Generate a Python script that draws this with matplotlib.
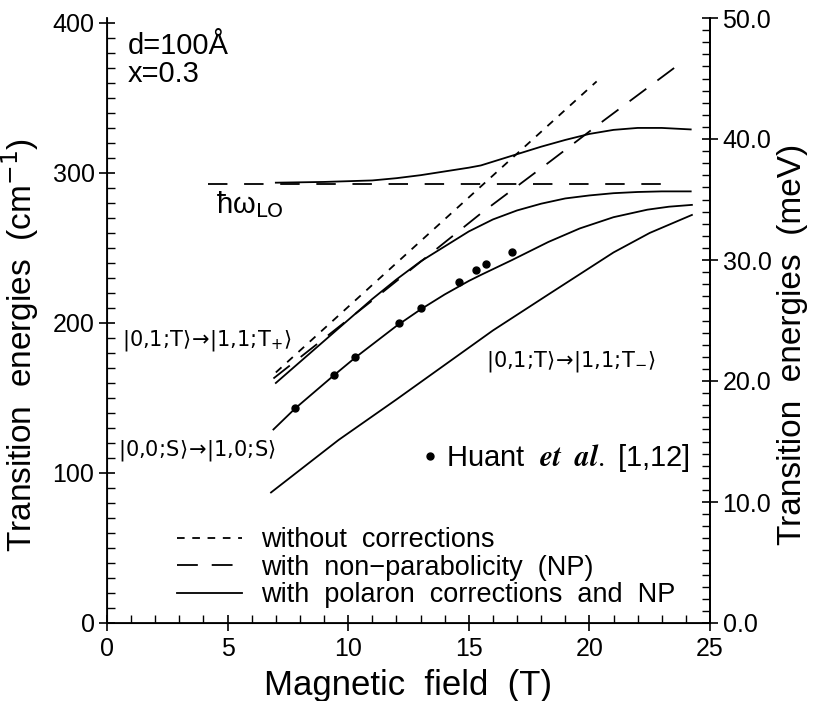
import matplotlib
matplotlib.use("Agg")
import matplotlib.pyplot as plt
from matplotlib.ticker import MultipleLocator, FixedLocator, FormatStrFormatter

plt.rcParams['font.family'] = ['Liberation Sans', 'DejaVu Sans']
plt.rcParams['lines.scale_dashes'] = False

CM_PER_MEV = 8.0655

# --- data (B in tesla, energies in cm^-1) ---
lo_B = [4.2, 23.5]
lo_E = [292.7, 292.7]

tplus_nocorr_B = [7.0, 20.3]
tplus_nocorr_E = [167.0, 361.0]

tplus_np_B = [6.9, 11.0, 15.5, 18.4, 20.6, 23.6]
tplus_np_E = [163.0, 215.0, 273.0, 308.0, 335.0, 371.0]

tplus_pol_low_B = [7.0, 8.0, 9.0, 10.0, 11.0, 12.0, 13.0, 14.0, 15.0, 16.0, 17.0,
                   18.0, 19.0, 20.0, 21.0, 22.0, 23.0, 24.2]
tplus_pol_low_E = [160.0, 174.0, 188.0, 202.0, 216.0, 229.0, 241.0, 251.0, 261.0, 269.0, 275.0,
                   279.5, 283.0, 285.0, 286.5, 287.3, 287.7, 287.7]

tplus_pol_up_B = [7.0, 9.0, 11.0, 12.0, 13.0, 14.0, 15.0, 15.5, 16.9, 18.0, 19.0,
                  20.0, 21.0, 22.0, 23.0, 24.2]
tplus_pol_up_E = [293.5, 294.0, 295.0, 296.5, 298.5, 301.0, 303.5, 305.0, 312.0, 317.5, 322.0,
                  326.0, 328.7, 330.0, 330.0, 329.0]

s_pol_B = [6.9, 7.8, 9.4, 10.3, 12.0, 13.0, 14.0, 15.0, 15.5, 16.8, 18.3, 19.6,
           21.0, 22.4, 23.3, 24.25]
s_pol_E = [129.0, 143.0, 165.0, 177.0, 198.0, 209.0, 219.0, 228.0, 232.0, 242.0, 254.0, 263.0,
           270.5, 275.5, 277.5, 278.7]

tminus_pol_B = [6.8, 9.6, 12.0, 14.0, 16.0, 18.3, 21.0, 22.5, 24.25]
tminus_pol_E = [87.0, 122.0, 149.0, 172.0, 195.0, 219.0, 247.0, 260.0, 272.0]

huant_B = [7.8, 9.4, 10.3, 12.1, 13.0, 14.6, 15.3, 15.7, 16.8]
huant_E = [143.0, 165.0, 177.0, 200.0, 210.0, 227.0, 235.0, 239.0, 247.0]

legend_labels = ["without  corrections",
                 "with  non\u2212parabolicity  (NP)",
                 "with  polaron  corrections  and  NP"]

fig = plt.figure(figsize=(8.19, 7.01), dpi=100)
W, H = 819.0, 701.0
x0, x1, ybot, ytop = 107.0, 710.0, 623.0, 18.0
ax = fig.add_axes([x0 / W, 1 - ybot / H, (x1 - x0) / W, (ybot - ytop) / H])
ax.set_xlim(0, 25)
ax.set_ylim(0, 50 * CM_PER_MEV)

lw = 1.3
short_d = (5.5, 5.5)
long_d = (15, 10)

ax.plot(lo_B, lo_E, color='black', lw=lw, dashes=(14, 12))
ln_nc, = ax.plot(tplus_nocorr_B, tplus_nocorr_E, color='black', lw=lw, dashes=short_d)
ln_np, = ax.plot(tplus_np_B, tplus_np_E, color='black', lw=lw, dashes=long_d)
ln_pol, = ax.plot(tplus_pol_low_B, tplus_pol_low_E, color='black', lw=lw)
ax.plot(tplus_pol_up_B, tplus_pol_up_E, color='black', lw=lw)
ax.plot(s_pol_B, s_pol_E, color='black', lw=lw)
ax.plot(tminus_pol_B, tminus_pol_E, color='black', lw=lw)
dots, = ax.plot(huant_B, huant_E, 'o', color='black', ms=5, ls='none')

# spines
ax.spines['top'].set_visible(False)
for s in ['left', 'bottom', 'right']:
    ax.spines[s].set_linewidth(1.3)

tick_fs = 18
ax.xaxis.set_major_locator(MultipleLocator(5))
ax.xaxis.set_minor_locator(MultipleLocator(1))
ax.yaxis.set_major_locator(FixedLocator([0, 100, 200, 300, 400]))
ax.yaxis.set_minor_locator(MultipleLocator(10))
ax.tick_params(axis='both', which='major', direction='inout', length=12, width=1.2,
               labelsize=tick_fs)
ax.tick_params(axis='both', which='minor', direction='in', length=6, width=1.0)
ax.tick_params(axis='y', which='major', pad=3)
ax.tick_params(axis='x', which='major', pad=4)

ax2 = ax.twinx()
ax2.set_ylim(0, 50)
ax2.spines['top'].set_visible(False)
ax2.spines['right'].set_linewidth(1.3)
ax2.yaxis.set_major_locator(MultipleLocator(10))
ax2.yaxis.set_minor_locator(MultipleLocator(1))
ax2.yaxis.set_major_formatter(FormatStrFormatter('%.1f'))
ax2.tick_params(axis='y', which='major', direction='inout', length=12, width=1.2,
                labelsize=tick_fs, pad=3)
ax2.tick_params(axis='y', which='minor', direction='in', length=6, width=1.0)

lab_fs = 24
ax.set_xlabel("Magnetic  field  (T)", fontsize=25, labelpad=6)
ax.set_ylabel("Transition  energies  (cm$^{-1}$)", fontsize=lab_fs)
ax2.set_ylabel("Transition  energies  (meV)", fontsize=lab_fs)
ax.yaxis.set_label_coords(-0.11, 0.46)
ax2.yaxis.set_label_coords(1.111, 0.46)

# annotations
ax.text(0.87, 384.7, "d=100\u00c5", fontsize=21, va='center', ha='left')
ax.text(0.87, 366.0, "x=0.3", fontsize=21, va='center', ha='left')
ax.text(4.5, 279.0, "\u0127\u03c9$_{\\mathrm{LO}}$", fontsize=21, va='center', ha='left')
ax.text(0.62, 188.0, r"$|0{,}1{;}\!\mathrm{T}\rangle\!\rightarrow\!|1{,}1{;}\!\mathrm{T}_{+}\rangle$",
        fontsize=15, va='center', ha='left')
ax.text(0.46, 115.3, r"$|0{,}0{;}\!\mathrm{S}\rangle\!\rightarrow\!|1{,}0{;}\!\mathrm{S}\rangle$",
        fontsize=15, va='center', ha='left')
ax.text(15.7, 174.0, r"$|0{,}1{;}\!\mathrm{T}\rangle\!\rightarrow\!|1{,}1{;}\!\mathrm{T}_{-}\rangle$",
        fontsize=15, va='center', ha='left')

leg = ax.legend([ln_nc, ln_np, ln_pol], legend_labels, loc='lower left',
                bbox_to_anchor=((177 - x0) / (x1 - x0), (ybot - 608) / (ybot - ytop)),
                frameon=False, fontsize=19.5, handlelength=2.4, handletextpad=0.7,
                labelspacing=0.05, borderpad=0, borderaxespad=0)
ax.add_artist(leg)

leg2 = ax.legend([dots], [r"Huant  $\boldsymbol{et\ \ al.}$ [1,12]"], loc='center left',
                 bbox_to_anchor=((424 - x0) / (x1 - x0), (ybot - 458) / (ybot - ytop)),
                 frameon=False, fontsize=21, handlelength=0.4, handletextpad=0.35,
                 numpoints=1, borderpad=0, borderaxespad=0)
for t in leg2.get_texts():
    t.set_math_fontfamily('stix')

fig.savefig("out.png", dpi=100)
